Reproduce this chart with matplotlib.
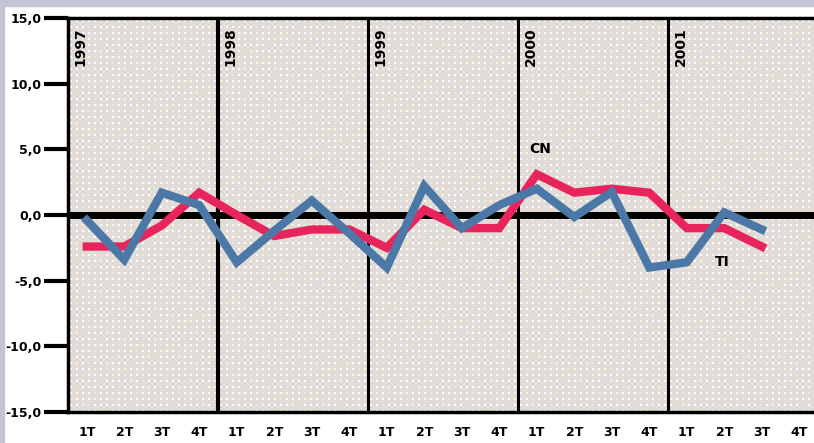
import numpy as np
import matplotlib
matplotlib.use('Agg')
import matplotlib.pyplot as plt

years = ['1997', '1998', '1999', '2000', '2001']
quarters = ['1T', '2T', '3T', '4T'] * 5

cn = [-2.4, -2.4, -0.8, 1.7, 0.0, -1.6, -1.1, -1.1, -2.5, 0.4,
      -1.0, -1.0, 3.1, 1.7, 2.0, 1.7, -1.0, -1.0, -2.4]
ti = [-0.4, -3.4, 1.7, 0.75, -3.6, -1.2, 1.1, -1.4, -4.0, 2.2,
      -1.0, 0.75, 2.0, -0.15, 1.75, -4.0, -3.6, 0.2, -1.1]

yticks = [15, 10, 5, 0, -5, -10, -15]
ylabels = ['15,0', '10,0', '5,0', '0,0', '-5,0', '-10,0', '-15,0']

red = '#e8245c'
blue = '#4b78a6'

W, H = 814, 443
fig = plt.figure(figsize=(W / 100, H / 100), dpi=100)
fig.patch.set_facecolor('white')

# grey frame at top and left
fig.patches.append(plt.Rectangle((0, 1 - 6 / H), 1, 6 / H, transform=fig.transFigure,
                                 color='#c2c5d5', zorder=0))
fig.patches.append(plt.Rectangle((0, 0), 4 / W, 1, transform=fig.transFigure,
                                 color='#c2c5d5', zorder=0))

ax = fig.add_axes([68 / W, (H - 412) / H, 750 / W, 394 / H])
ax.set_xlim(0, 20)
ax.set_ylim(-15, 15)

# dotted paper texture behind the plot
pw, ph = 750, 394
tex = np.ones((ph, pw, 3)) * np.array([0.885, 0.865, 0.85])
yy, xx = np.mgrid[0:ph, 0:pw]
dots = ((yy % 6) >= 2) & ((yy % 6) < 4) & ((xx % 6) >= 2) & ((xx % 6) < 4)
tex[dots] = [1.0, 1.0, 1.0]
tex[dots & ((xx // 6 + 2 * (yy // 6)) % 5 == 0)] = [1.0, 0.97, 0.8]
tex[dots & ((2 * (xx // 6) + yy // 6) % 7 == 0)] = [0.87, 0.93, 0.85]
ax.imshow(tex, extent=(0, 20, -15, 15), aspect='auto', zorder=0,
          interpolation='nearest')

x = np.arange(len(cn)) + 0.5
ax.axhline(0, color='black', lw=5, zorder=2)
for k in range(1, 5):
    ax.axvline(4 * k, color='black', lw=3 if k == 1 else 2.2, zorder=2)

ax.plot(x, cn, color=red, lw=6, zorder=3, solid_joinstyle='miter')
ax.plot(x, ti, color=blue, lw=6, zorder=4, solid_joinstyle='miter')

for k, yr in enumerate(years):
    ax.text(4 * k + 0.15, 14.3, yr, rotation=90, ha='left', va='top',
            fontsize=10, fontweight='bold', color='black')

ax.text(12.3, 4.5, 'CN', fontsize=10, fontweight='bold', va='bottom')
ax.text(17.25, -3.6, 'TI', fontsize=10, fontweight='bold', va='center')

for s in ['left', 'bottom', 'top']:
    ax.spines[s].set_linewidth(2.5)
ax.spines['right'].set_visible(False)

ax.set_yticks(yticks)
ax.set_yticklabels(ylabels, fontsize=9, fontweight='bold')
ax.tick_params(axis='y', length=17, width=3, pad=2)
ax.set_xticks(np.arange(20) + 0.5)
ax.set_xticklabels(quarters, fontsize=9, fontweight='bold')
ax.tick_params(axis='x', length=0, pad=10)

fig.savefig('out.png', dpi=100)
